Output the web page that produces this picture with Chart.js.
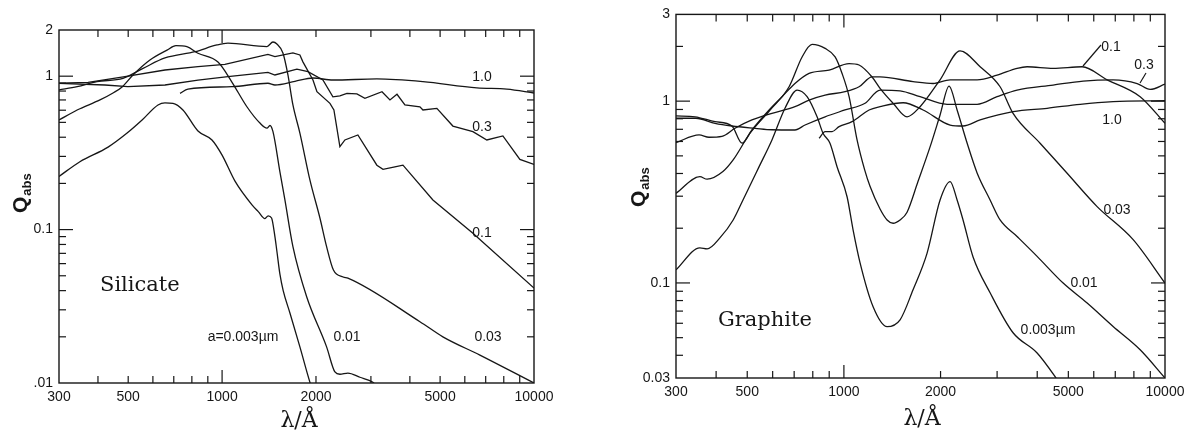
<!DOCTYPE html>
<html><head><meta charset="utf-8">
<script src="https://cdn.jsdelivr.net/npm/chart.js@4.4.0/dist/chart.umd.min.js"></script>
<style>
html,body{margin:0;padding:0;background:#fff;width:1195px;height:435px;overflow:hidden}
.box{position:absolute;top:0;height:435px}
#b1{left:0;width:590px} #b2{left:590px;width:605px}
canvas{display:block}
</style></head><body>
<div class="box" id="b1"><canvas id="c1" width="590" height="435"></canvas></div>
<div class="box" id="b2"><canvas id="c2" width="605" height="435"></canvas></div>
<script>
// ---------- Silicate (left panel) ----------
const silWave003 = [300,350,431,496,554,623,656,696,749,837,928,1000,1100,1247,1306,1372,1405,1441,1477,1499,1533,1570,1650,1776,1913,1940];
const silQ003    = [0.222,0.277,0.345,0.426,0.518,0.649,0.67,0.665,0.602,0.439,0.384,0.306,0.207,0.145,0.131,0.118,0.123,0.119,0.09,0.072,0.051,0.040,0.0286,0.0172,0.0101,0.0093];
const silWave01  = [300,343,406,447,478,518,587,666,711,771,837,970,1075,1201,1322,1393,1424,1456,1533,1590,1687,1867,2163,2300,2386,2531,2766,3044,3120];
const silQ01     = [0.518,0.602,0.70,0.777,0.85,1.018,1.275,1.48,1.58,1.556,1.41,1.236,0.916,0.632,0.495,0.459,0.477,0.435,0.237,0.156,0.0774,0.0365,0.0172,0.0118,0.0114,0.0116,0.0109,0.0101,0.0096];
const silWave03  = [300,343,397,481,558,656,819,963,1044,1393,1456,1499,1567,1626,1687,1776,1913,2059,2163,2275,2445,2531,4308,5103,6708,10000];
const silQ03     = [0.813,0.854,0.921,0.969,1.125,1.314,1.444,1.597,1.64,1.56,1.67,1.62,1.416,1.018,0.649,0.426,0.21,0.119,0.0774,0.0545,0.0491,0.0483,0.0251,0.02,0.0152,0.01];
const silWave1   = [300,372,488,656,837,1021,1403,1477,1687,1776,1816,1956,2014,2217,2283,2386,2476,2725,3135,3280,3581,3801,4741,6370,10000];
const silQ1      = [0.899,0.91,0.992,1.097,1.153,1.195,1.385,1.34,1.42,1.375,1.24,0.944,0.792,0.665,0.602,0.347,0.384,0.414,0.263,0.247,0.256,0.263,0.156,0.0945,0.0416];
const silWave3   = [300,421,499,656,837,1044,1403,1477,1737,1885,2105,2266,2386,2513,2705,2870,3256,3453,3637,3856,4308,4405,4882,5494,6370,7060,7948,9011,10000];
const silQ3      = [0.899,0.876,0.854,0.876,0.944,0.992,1.06,1.018,1.11,1.07,0.944,0.734,0.745,0.773,0.766,0.718,0.792,0.70,0.762,0.649,0.632,0.602,0.617,0.473,0.435,0.384,0.408,0.287,0.266];
const silWave10  = [733,777,1075,1403,1477,1712,1956,2266,3135,4405,6560,8186,10000];
const silQ10     = [0.773,0.824,0.854,0.899,0.876,0.925,0.973,0.944,0.959,0.921,0.838,0.824,0.777];

// ---------- Graphite (right panel) ----------
const graWave003 = [300,356,375,411,452,485,544,597,656,715,768,825,861,905,952,1023,1068,1123,1233,1363,1496,1642,1816,1993,2142,2252,2350,2525,2853,3364,3997,4547,4716];
const graQ003    = [0.118,0.156,0.154,0.177,0.222,0.286,0.435,0.612,0.917,1.15,1.058,0.82,0.666,0.587,0.436,0.298,0.196,0.129,0.074,0.0575,0.0627,0.0917,0.146,0.286,0.361,0.286,0.222,0.139,0.0883,0.0532,0.0412,0.0305,0.0276];
const graWave01  = [300,356,375,420,452,510,589,675,741,796,874,939,987,1038,1099,1160,1206,1296,1363,1423,1496,1573,1700,1855,1993,2126,2252,2419,2599,2853,3065,3462,3997,4817,5722,6894,8368,10000];
const graQ01     = [0.311,0.384,0.372,0.41,0.475,0.666,0.894,1.20,1.75,2.05,1.95,1.75,1.42,1.058,0.612,0.42,0.34,0.255,0.222,0.213,0.222,0.245,0.36,0.56,0.839,1.21,0.894,0.588,0.403,0.286,0.222,0.18,0.14,0.0998,0.0775,0.0576,0.0429,0.03];
const graWave03  = [300,344,397,448,482,517,585,642,704,779,899,1038,1115,1224,1296,1423,1573,1727,1993,2300,2656,3065,3364,4083,4957,6146,7959,10000];
const graQ03     = [0.829,0.82,0.771,0.73,0.587,0.694,0.894,1.058,1.25,1.42,1.483,1.61,1.58,1.357,1.176,0.974,0.82,0.932,1.31,1.89,1.546,1.20,0.857,0.587,0.401,0.263,0.173,0.0998];
const graWave1   = [300,354,380,417,458,517,597,704,779,874,1008,1115,1224,1296,1642,1896,2142,2599,3000,3462,3720,4483,5520,6604,8368,10000];
const graQ1      = [0.591,0.652,0.633,0.64,0.709,0.788,0.857,0.932,1.014,1.08,1.127,1.20,1.36,1.36,1.28,1.25,1.31,1.31,1.39,1.515,1.546,1.515,1.546,1.31,1.058,0.755];
const graWave3   = [300,346,397,448,529,597,704,757,874,1008,1164,1296,1496,1727,2096,2599,3000,3462,4483,5560,6894,8190,8990,10000];
const graQ3      = [0.805,0.805,0.755,0.73,0.709,0.696,0.694,0.739,0.82,0.894,0.974,1.15,1.14,1.058,0.961,0.961,1.058,1.15,1.226,1.29,1.31,1.25,1.16,1.24];
const graWave10  = [837,874,919,966,1060,1198,1296,1529,1765,2142,2350,2656,3364,4293,5442,6894,10000];
const graQ10     = [0.625,0.68,0.68,0.724,0.771,0.894,0.932,0.98,0.894,0.739,0.73,0.788,0.875,0.913,0.961,0.993,1.005];

// ---------- ticks ----------
const xTickVals   = [300,500,1000,2000,5000,10000];
const xTickLabels = ['300','500','1000','2000','5000','10000'];
const xMajor = [1000];
const xMinor = [400,500,600,700,800,900,2000,3000,4000,5000,6000,7000,8000,9000];
const silYTickVals   = [0.01,0.1,1,2];
const silYTickLabels = ['.01','0.1','1','2'];
const graYTickVals   = [0.03,0.1,1,3];
const graYTickLabels = ['0.03','0.1','1','3'];
const yMajor = [0.1,1];
const silYMinor = [0.02,0.03,0.04,0.05,0.06,0.07,0.08,0.09,0.2,0.3,0.4,0.5,0.6,0.7,0.8,0.9];
const graYMinor = [0.04,0.05,0.06,0.07,0.08,0.09,0.2,0.3,0.4,0.5,0.6,0.7,0.8,0.9,2];

const INK = '#161616';
const pts = (w,q) => w.map((v,i)=>({x:v,y:q[i]}));
const ds = (w,q,smooth) => ({data:pts(w,q), borderColor:INK, borderWidth:1.3, pointRadius:0, fill:false,
  tension:0, cubicInterpolationMode: smooth ? 'monotone' : 'default'});

function decor(spec){
  return {
    id:'decor'+spec.id,
    afterDraw(chart){
      const c=chart.ctx, a=chart.chartArea, xs=chart.scales.x, ys=chart.scales.y;
      c.save();
      c.strokeStyle=INK; c.lineWidth=1.4;
      c.strokeRect(a.left,a.top,a.right-a.left,a.bottom-a.top);
      c.lineWidth=1.2;
      const ln=(x1,y1,x2,y2)=>{c.beginPath();c.moveTo(x1,y1);c.lineTo(x2,y2);c.stroke();};
      for(const v of xMinor.concat(xMajor)){
        const L = xMajor.includes(v)?13:7, p=xs.getPixelForValue(v);
        ln(p,a.bottom,p,a.bottom-L); ln(p,a.top,p,a.top+L);
      }
      for(const v of spec.yMinor.concat(yMajor)){
        const L = yMajor.includes(v)?14:7, p=ys.getPixelForValue(v);
        ln(a.left,p,a.left+L,p); ln(a.right,p,a.right-L,p);
      }
      for(const l of spec.leaders) ln(l[0],l[1],l[2],l[3]);
      c.fillStyle=INK;
      c.font='14px "Liberation Sans", Arial, sans-serif';
      c.textAlign='center'; c.textBaseline='middle';
      for(const t of spec.labels) c.fillText(t[0],t[1],t[2]);
      c.font='21px "DejaVu Serif", serif';
      c.textAlign='left'; c.textBaseline='alphabetic';
      c.fillText(spec.name, spec.nameX, spec.nameY);
      c.font='22px "DejaVu Serif", serif';
      c.textAlign='center';
      c.fillText('λ/Å', spec.lamX, spec.lamY);
      c.translate(spec.qx, spec.qy); c.rotate(-Math.PI/2);
      c.textAlign='left';
      c.font='bold 21px "Liberation Sans", Arial, sans-serif';
      c.fillText('Q',0,0);
      const w=c.measureText('Q').width;
      c.font='bold 13px "Liberation Sans", Arial, sans-serif';
      c.fillText('abs',w+1,4);
      c.restore();
    }
  };
}

function makeChart(id, datasets, yMin, yMax, yVals, yLabels, pad, yWidth, xHeight, spec){
  return new Chart(document.getElementById(id), {
    type:'line',
    data:{datasets},
    options:{
      responsive:false, animation:false, events:[],
      layout:{padding:pad},
      plugins:{legend:{display:false}, tooltip:{enabled:false}},
      scales:{
        x:{type:'logarithmic', min:300, max:10000,
           afterBuildTicks:s=>{s.ticks=xTickVals.map(v=>({value:v}));},
           afterFit:s=>{s.height=xHeight;},
           ticks:{callback:(v,i)=>xTickLabels[i], autoSkip:false, maxRotation:0, padding:6, color:INK,
                  font:{family:'"Liberation Sans", Arial, sans-serif', size:14}},
           grid:{display:false, drawTicks:false}, border:{display:false}},
        y:{type:'logarithmic', min:yMin, max:yMax,
           afterBuildTicks:s=>{s.ticks=yVals.map(v=>({value:v}));},
           afterFit:s=>{s.width=yWidth;},
           ticks:{callback:(v,i)=>yLabels[i], autoSkip:false, padding:6, color:INK,
                  font:{family:'"Liberation Sans", Arial, sans-serif', size:14}},
           grid:{display:false, drawTicks:false}, border:{display:false}}
      }
    },
    plugins:[decor(spec)]
  });
}

makeChart('c1', [
  ds(silWave003,silQ003,true), ds(silWave01,silQ01,true), ds(silWave03,silQ03,true),
  ds(silWave1,silQ1,false), ds(silWave3,silQ3,false), ds(silWave10,silQ10,true)
], 0.01, 2, silYTickVals, silYTickLabels, {top:30,right:56,left:0,bottom:0}, 59, 52, {
  id:1, yMinor:silYMinor, leaders:[],
  labels:[['1.0',482,77],['0.3',482,127],['0.1',482,233],['0.03',488,337],['0.01',347,337],['a=0.003µm',243,337]],
  name:'Silicate', nameX:100, nameY:291, lamX:299, lamY:427, qx:27, qy:213
});

makeChart('c2', [
  ds(graWave003,graQ003,true), ds(graWave01,graQ01,true), ds(graWave03,graQ03,true),
  ds(graWave1,graQ1,true), ds(graWave3,graQ3,true), ds(graWave10,graQ10,true)
], 0.03, 3, graYTickVals, graYTickLabels, {top:14,right:30,left:0,bottom:0}, 86, 57, {
  id:2, yMinor:graYMinor, leaders:[[493,66,511,45],[550,83,556,73]],
  labels:[['0.1',521,47],['0.3',554,65],['1.0',522,120],['0.03',527,210],['0.01',494,283],['0.003µm',458,330]],
  name:'Graphite', nameX:128, nameY:326, lamX:332, lamY:425, qx:55, qy:207
});
</script></body></html>
